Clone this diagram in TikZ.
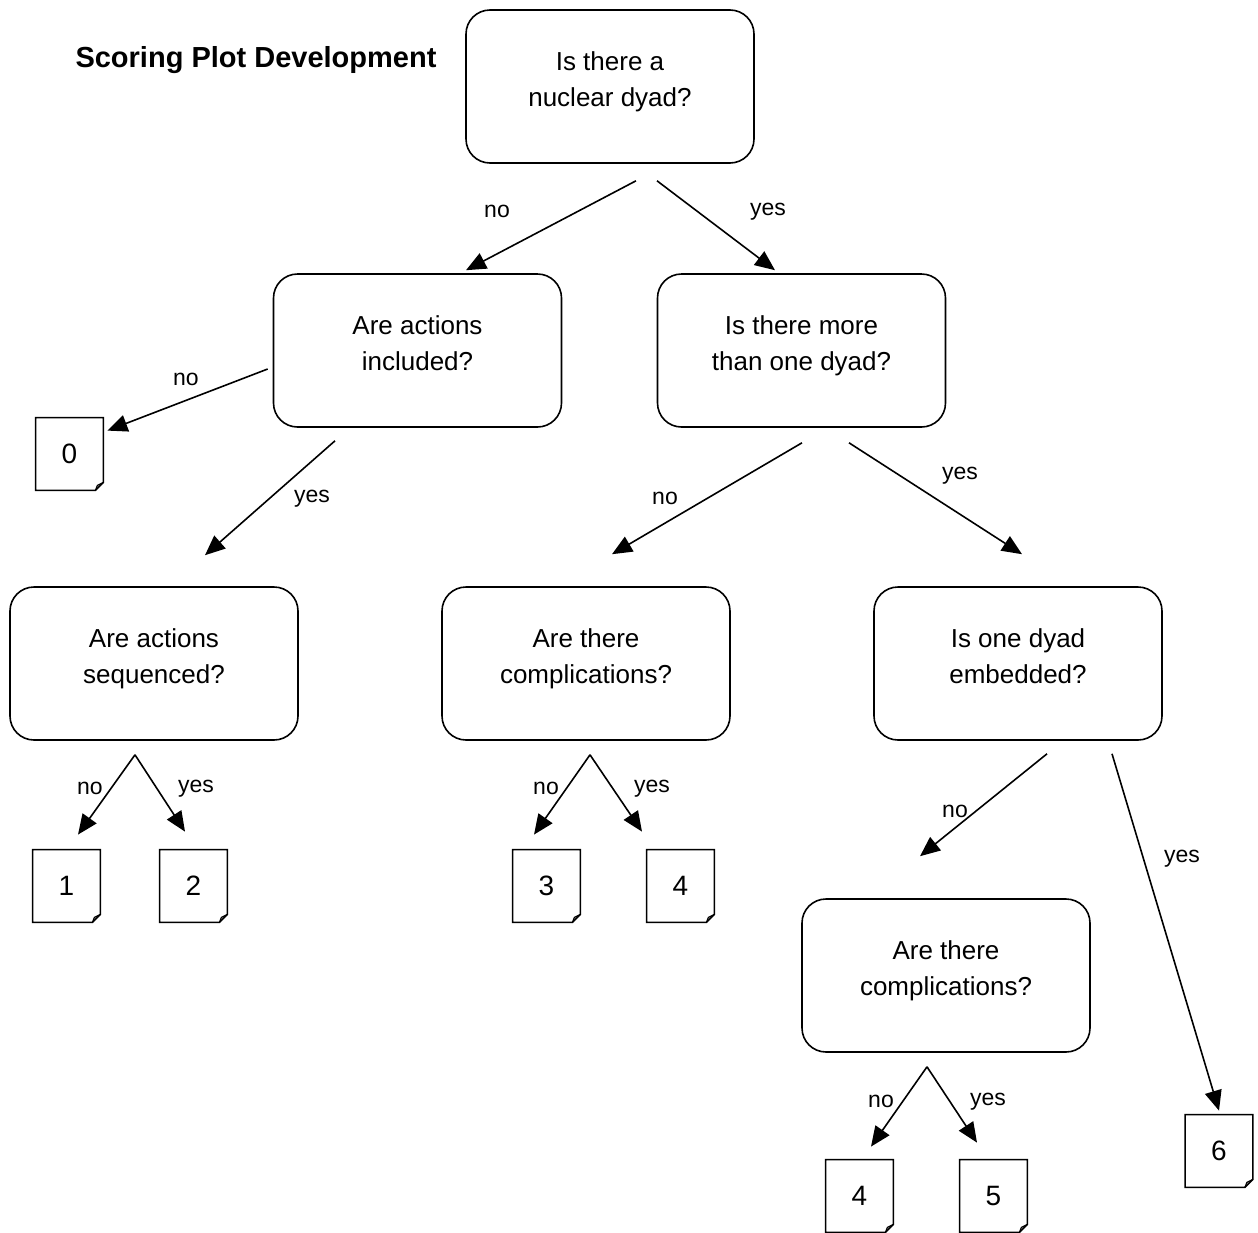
\documentclass[tikz,border=0pt]{standalone}
\usepackage{fontspec}
\setmainfont{Liberation Sans}
\usetikzlibrary{calc,arrows.meta,positioning}

\begin{document}
\begin{tikzpicture}[x=0.5pt, y=-0.5pt, >={Triangle[length=10pt,width=8.5pt]},
    question/.style={draw, line width=0.8pt, rounded corners=12pt, minimum width=144pt,
        minimum height=76.5pt, align=center, font=\fontsize{13}{18}\selectfont,
        execute at end node={\rule[-7pt]{0pt}{1pt}}},
    leaf/.style={minimum width=33.5pt, minimum height=36pt, inner sep=0pt,
        font=\fontsize{14}{16}\selectfont},
    answer/.style={font=\fontsize{11.5}{13}\selectfont, yshift=-1.8pt},
    link/.style={->, line width=0.8pt}]
    \useasboundingbox (0,0) rectangle (1258,1232);

    % Title
    \node[font=\fontsize{14.5}{17}\selectfont\bfseries] (title) at (256,60) {Scoring Plot Development};

    % Questions
    \node[question] (top)   at (610,86.5)   {Is there a\\nuclear dyad?};
    \node[question] (act)   at (417.5,350.5) {Are actions\\included?};
    \node[question] (more)  at (801.5,350.5) {Is there more\\than one dyad?};
    \node[question] (seq)   at (154,663.5)   {Are actions\\sequenced?};
    \node[question] (comp1) at (586,663.5)   {Are there\\complications?};
    \node[question] (emb)   at (1018,663.5)  {Is one dyad\\embedded?};
    \node[question] (comp2) at (946,975.5)   {Are there\\complications?};

    % Scores
    \node[leaf] (s0)  at (69.5,454)  {0};
    \node[leaf] (s1)  at (66.5,886)  {1};
    \node[leaf] (s2)  at (193.5,886) {2};
    \node[leaf] (s3)  at (546.5,886) {3};
    \node[leaf] (s4)  at (680.5,886) {4};
    \node[leaf] (s4b) at (859.5,1196) {4};
    \node[leaf] (s5)  at (993.5,1196) {5};
    \node[leaf] (s6)  at (1219,1151) {6};

    % Folded corners
    \foreach \n in {s0,s1,s2,s3,s4,s4b,s5,s6} {
        \draw[line width=0.8pt] (\n.north west) -- (\n.north east) -- ([yshift=4pt]\n.south east)
            -- ([xshift=-4pt]\n.south east) -- (\n.south west) -- cycle;
        \draw[line width=0.6pt] ([xshift=-4pt]\n.south east) -- ([xshift=-3pt,yshift=2.5pt]\n.south east)
            -- ([yshift=4pt]\n.south east);
    }

    % Branches
    \draw[link] ($(top.south)+(26,17)$) -- ($(act.north)+(48.5,-3)$);
    \draw[link] ($(top.south)+(47,17)$) -- ($(more.north)+(-26.5,-3)$);
    \draw[link] ($(act.west)+(-5,18.5)$) -- ($(s0.north east)+(4,13)$);
    \draw[link] ($(act.south)+(-82.5,13)$) -- ($(seq.north)+(51,-31)$);
    \draw[link] ($(more.south)+(0.5,15)$) -- ($(comp1.north)+(26,-32)$);
    \draw[link] ($(more.south)+(47.5,15)$) -- ($(emb.north)+(4,-32)$);
    \draw[link] ($(emb.south)+(29,13)$) -- ($(comp2.north)+(-26,-42)$);
    \draw[link] ($(emb.south)+(94,13)$) -- ($(s6.north)+(0,-4)$);

    \coordinate (seqtip) at ($(seq.south)+(-19,14)$);
    \draw[link] (seqtip) -- ($(s1.north)+(11.5,-15)$);
    \draw[link] (seqtip) -- ($(s2.north)+(-8.5,-18)$);
    \coordinate (comp1tip) at ($(comp1.south)+(4,14)$);
    \draw[link] (comp1tip) -- ($(s3.north)+(-12.5,-15)$);
    \draw[link] (comp1tip) -- ($(s4.north)+(-38.5,-18)$);
    \coordinate (comp2tip) at ($(comp2.south)+(-19,14)$);
    \draw[link] (comp2tip) -- ($(s4b.north)+(11.5,-13)$);
    \draw[link] (comp2tip) -- ($(s5.north)+(-16.5,-17)$);

    % Answers
    \node[answer] (a1)  at (497,208)  {no};
    \node[answer] (a2)  at (768,208)  {yes};
    \node[answer] (a3)  at (186,376)  {no};
    \node[answer] (a4)  at (312,495)  {yes};
    \node[answer] (a5)  at (665,495)  {no};
    \node[answer] (a6)  at (960,472)  {yes};
    \node[answer] (a7)  at (90,785)   {no};
    \node[answer] (a8)  at (196,785)  {yes};
    \node[answer] (a9)  at (546,785)  {no};
    \node[answer] (a10) at (652,785)  {yes};
    \node[answer] (a11) at (955,808)  {no};
    \node[answer] (a12) at (1182,855) {yes};
    \node[answer] (a13) at (881,1098) {no};
    \node[answer] (a14) at (988,1098) {yes};
\end{tikzpicture}
\end{document}
